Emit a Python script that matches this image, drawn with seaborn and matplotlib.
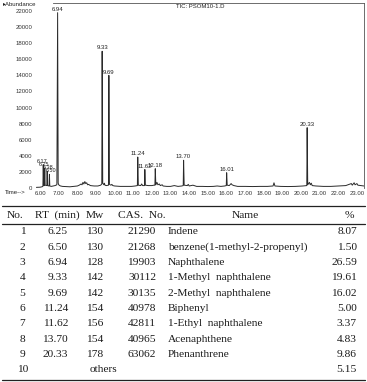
import matplotlib
matplotlib.use("Agg")
import matplotlib.pyplot as plt
import seaborn as sns

# chromatogram trace (retention time in min, abundance)
rt_trace = [5.80, 6.00, 6.10, 6.15, 6.17, 6.19, 6.23, 6.25, 6.27, 6.36, 6.38, 6.40,
            6.48, 6.50, 6.52, 6.60, 6.70, 6.80, 6.90, 6.94, 6.97, 7.00, 7.05, 7.10,
            7.20, 7.40, 7.60, 7.80, 8.00, 8.10, 8.20, 8.25, 8.30, 8.35, 8.40, 8.45,
            8.50, 8.55, 8.60, 8.70, 8.90, 9.10, 9.25, 9.31, 9.33, 9.36, 9.42, 9.45,
            9.48, 9.55, 9.67, 9.69, 9.72, 9.80, 9.85, 9.90, 10.00, 10.30, 10.60, 10.90,
            11.10, 11.22, 11.24, 11.27, 11.40, 11.45, 11.50, 11.60, 11.62, 11.65, 11.80, 12.00,
            12.10, 12.16, 12.18, 12.21, 12.27, 12.32, 12.40, 12.45, 12.55, 12.60, 12.80, 13.00,
            13.20, 13.40, 13.60, 13.68, 13.70, 13.73, 13.90, 13.95, 14.00, 14.20, 14.40, 14.70,
            15.00, 15.30, 15.50, 15.70, 15.90, 15.99, 16.01, 16.04, 16.15, 16.25, 16.30, 16.40,
            16.60, 17.00, 17.40, 17.80, 18.20, 18.50, 18.55, 18.60, 18.90, 19.30, 19.70, 20.10,
            20.31, 20.33, 20.36, 20.45, 20.50, 20.55, 20.60, 20.80, 21.20, 21.60, 22.00, 22.40,
            22.70, 22.75, 22.85, 22.90, 23.00, 23.05, 23.20, 23.38]
abundance = [80, 100, 150, 200, 2900, 300, 300, 2500, 350, 300, 2100, 300,
             250, 1700, 250, 200, 250, 300, 400, 21800, 600, 400, 300, 250,
             200, 180, 150, 200, 250, 350, 500, 400, 700, 500, 800, 550,
             650, 400, 450, 300, 250, 250, 350, 500, 17000, 600, 400, 600,
             350, 300, 350, 14000, 450, 350, 450, 300, 250, 200, 200, 200,
             250, 300, 3850, 350, 300, 500, 300, 300, 2300, 350, 300, 300,
             350, 350, 2400, 400, 700, 400, 500, 300, 400, 250, 200, 200,
             300, 200, 250, 300, 3450, 350, 300, 450, 250, 350, 200, 200,
             180, 200, 250, 200, 250, 300, 1900, 350, 300, 550, 400, 300,
             200, 200, 180, 200, 200, 250, 650, 250, 200, 180, 200, 250,
             300, 7500, 400, 700, 400, 600, 300, 250, 200, 200, 250, 300,
             550, 350, 650, 400, 550, 350, 300, 250]

peak_labels = ["6.17", "6.25", "6.38", "6.50", "6.94", "9.33", "9.69", "11.24",
               "11.62", "12.18", "13.70", "16.01", "20.33"]

x_ticks = [6, 7, 8, 9, 10, 11, 12, 13, 14, 15, 16, 17, 18, 19, 20, 21, 22, 23]
y_ticks = [0, 2000, 4000, 6000, 8000, 10000, 12000, 14000, 16000, 18000, 20000, 22000]

# compound table
col_no = ["1", "2", "3", "4", "5", "6", "7", "8", "9", "10"]
col_rt = ["6.25", "6.50", "6.94", "9.33", "9.69", "11.24", "11.62", "13.70", "20.33", ""]
col_mw = ["130", "130", "128", "142", "142", "154", "156", "154", "178", "others"]
col_cas = ["21290", "21268", "19903", "30112", "30135", "40978", "42811", "40965", "63062", ""]
col_name = ["Indene", "benzene(1-methyl-2-propenyl)", "Naphthalene", "1-Methyl  naphthalene",
            "2-Methyl  naphthalene", "Biphenyl", "1-Ethyl  naphthalene", "Acenaphthene",
            "Phenanthrene", ""]
col_pct = ["8.07", "1.50", "26.59", "19.61", "16.02", "5.00", "3.37", "4.83", "9.86", "5.15"]

sns.set_style("white")
plt.rcParams["font.family"] = ["Liberation Sans", "DejaVu Sans"]

W, H = 367, 382
fig = plt.figure(figsize=(W / 100, H / 100), dpi=100)

# ---- chromatogram
ax = fig.add_axes([36 / W, 1 - 188 / H, 328 / W, 185 / H])
sns.lineplot(x=rt_trace, y=abundance, sort=False, estimator=None, ax=ax,
             color="#2a2a2a", linewidth=0.7)
ax.set_xlim(5.78, 23.38)
ax.set_ylim(0, 23000)
ax.set_xticks(x_ticks)
ax.set_xticklabels([f"{t:.2f}" for t in x_ticks])
ax.set_yticks(y_ticks)
ax.tick_params(axis="both", labelsize=4.3, colors="#333333", length=0, pad=2.5)
for s in ["left", "bottom"]:
    ax.spines[s].set_visible(False)
for s in ["top", "right"]:
    ax.spines[s].set_color("#555555")
    ax.spines[s].set_linewidth(0.6)
ax.spines["top"].set_bounds(6.7, 23.38)

# the crowded labels near 6.2 min are nudged sideways a little
nudge = {"6.17": -1.0, "6.25": -0.3, "6.38": 0.4, "6.50": 1.2}
for lab in peak_labels:
    t = float(lab)
    h = abundance[rt_trace.index(t)]
    ax.annotate(lab, (t, h), xytext=(nudge.get(lab, 0), 0.6), textcoords="offset points",
                ha="center", va="bottom", fontsize=4.3 if lab not in nudge else 4.0,
                color="#222222")

fig.text(176 / W, 1 - 6 / H, "TIC: PSOM10-1.D", fontsize=4.3, color="#222222",
         ha="left", va="center")
fig.text(3 / W, 1 - 5 / H, "\u25b8Abundance", fontsize=4.3, color="#222222",
         ha="left", va="center")
fig.text(5 / W, 1 - 193 / H, "Time-->", fontsize=4.3, color="#222222",
         ha="left", va="center")

# ---- table
tax = fig.add_axes([0, 0, 1, 1])
tax.set_xlim(0, W)
tax.set_ylim(H, 0)
tax.axis("off")
tfont = dict(family=["Liberation Serif", "DejaVu Serif"], fontsize=8.2, color="#1a1a1a",
             va="center")
for yl in [206, 224, 380]:
    tax.plot([2, 365], [yl, yl], color="#222222", linewidth=0.9)

hy = 215
tax.text(7, hy, "No.", ha="left", **tfont)
tax.text(35, hy, "RT  (min)", ha="left", **tfont)
tax.text(95, hy, "Mw", ha="center", **tfont)
tax.text(118, hy, "CAS.  No.", ha="left", **tfont)
tax.text(245, hy, "Name", ha="center", **tfont)
tax.text(349, hy, "%", ha="center", **tfont)

for i in range(len(col_no)):
    y = 232 + i * 15.3
    tax.text(22.5, y, col_no[i], ha="center", **tfont)
    tax.text(68, y, col_rt[i], ha="right", **tfont)
    tax.text(95 if col_mw[i] != "others" else 103, y, col_mw[i], ha="center", **tfont)
    tax.text(156, y, col_cas[i], ha="right", **tfont)
    tax.text(168, y, col_name[i], ha="left", **tfont)
    tax.text(357, y, col_pct[i], ha="right", **tfont)

fig.savefig("out.png", dpi=100)
